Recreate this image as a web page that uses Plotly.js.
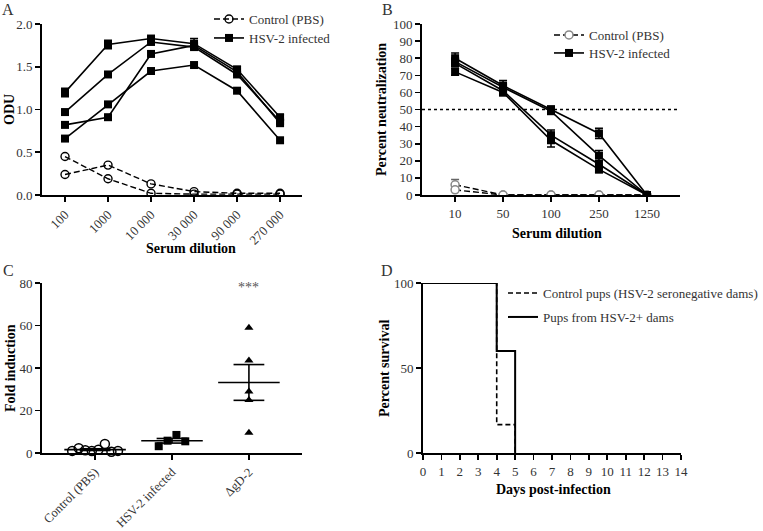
<!DOCTYPE html>
<html>
<head>
<meta charset="utf-8">
<script src="https://cdn.plot.ly/plotly-3.0.1.min.js"></script>
<style>html,body{margin:0;padding:0;background:#fff;overflow:hidden}#chart{width:763px;height:531px;}</style>
</head>
<body>
<div id="chart"></div>
<script>
// ---------- Panel A: ODU by serum dilution ----------
var dilA = ["100", "1000", "10 000", "30 000", "90 000", "270 000"];
var hsvA1 = [1.20, 1.76, 1.83, 1.77, 1.47, 0.91];
var hsvA1err = [0.05, 0.05, 0.02, 0.06, 0.03, 0.03];
var hsvA2 = [0.97, 1.41, 1.79, 1.73, 1.41, 0.86];
var hsvA3 = [0.82, 0.91, 1.65, 1.75, 1.44, 0.84];
var hsvA4 = [0.66, 1.06, 1.45, 1.52, 1.22, 0.64];
var ctlA1 = [0.45, 0.19, 0.02, 0.01, 0.01, 0.01];
var ctlA2 = [0.24, 0.35, 0.13, 0.04, 0.02, 0.02];

// ---------- Panel B: percent neutralization ----------
var dilB = ["10", "50", "100", "250", "1250"];
var hsvB1 = [80, 64, 50, 36, 0];
var hsvB1err = [3, 3, 2, 3, 0];
var hsvB2 = [78, 63, 49, 23, 0];
var hsvB2err = [2, 2, 1, 3, 0];
var hsvB3 = [77, 61, 35, 18, 0];
var hsvB3err = [2, 2, 3, 2, 0];
var hsvB4 = [72, 60, 32, 15, 0];
var hsvB4err = [2, 2, 4, 2, 0];
var ctlB1 = [6, 0, 0, 0, 0];
var ctlB1err = [3, 0, 0, 0, 0];
var ctlB2 = [3, 0, 0, 0, 0];

// ---------- Panel C: fold induction ----------
var groupsC = ["Control (PBS)", "HSV-2 infected", "ΔgD-2"];
var ctlC = [1.0, 2.2, 1.3, 0.9, 1.5, 4.2, 0.6, 1.0];
var hsvC = [3.2, 5.8, 8.5, 5.5];
var gdC = [59, 43.5, 29, 25, 9.5];

// ---------- Panel D: survival ----------
var daysCtlD = [0, 4, 5];
var survCtlD = [100, 16.7, 0];
var daysPosD = [0, 4, 5];
var survPosD = [100, 60, 0];

var FONT = "Liberation Serif, Times New Roman, serif";
var W = 763, H = 531;
function fx(px) { return px / W; }
function fy(px) { return 1 - px / H; }

var traces = [];
var errStyle = {type: "data", visible: true, color: "#000", thickness: 1.5, width: 4};

// Panel A traces
[ctlA1, ctlA2].forEach(function (s, i) {
  traces.push({x: dilA, y: s, xaxis: "x", yaxis: "y", type: "scatter", mode: "lines+markers",
    line: {color: "#000", width: 1.4, dash: "6px,3px"},
    marker: {symbol: "circle-open", size: 8, color: "#000", line: {width: 1.4, color: "#000"}},
    name: "Control (PBS)", showlegend: i === 0, legend: "legend"});
});
[hsvA1, hsvA2, hsvA3, hsvA4].forEach(function (s, i) {
  var t = {x: dilA, y: s, xaxis: "x", yaxis: "y", type: "scatter", mode: "lines+markers",
    line: {color: "#000", width: 1.6}, marker: {symbol: "square", size: 8, color: "#000"},
    name: "HSV-2 infected", showlegend: i === 0, legend: "legend2"};
  if (i === 0) t.error_y = Object.assign({array: hsvA1err}, errStyle);
  traces.push(t);
});

// Panel B traces
[[ctlB1, ctlB1err], [ctlB2, null]].forEach(function (p, i) {
  var t = {x: dilB, y: p[0], xaxis: "x2", yaxis: "y2", type: "scatter", mode: "lines+markers",
    line: {color: "#000", width: 1.4, dash: "6px,3px"},
    marker: {symbol: "circle", size: 8, color: "#fff", line: {width: 1.5, color: "#888"}},
    name: "Control (PBS)", showlegend: i === 0, legend: "legend3"};
  if (p[1]) t.error_y = Object.assign({array: p[1]}, errStyle, {color: "#666"});
  traces.push(t);
});
[[hsvB1, hsvB1err], [hsvB2, hsvB2err], [hsvB3, hsvB3err], [hsvB4, hsvB4err]].forEach(function (p, i) {
  traces.push({x: dilB, y: p[0], xaxis: "x2", yaxis: "y2", type: "scatter", mode: "lines+markers",
    line: {color: "#000", width: 1.6}, marker: {symbol: "square", size: 8, color: "#000"},
    error_y: Object.assign({array: p[1]}, errStyle),
    name: "HSV-2 infected", showlegend: i === 0, legend: "legend4"});
});

// Panel C traces: spread points horizontally around their group index
function spread(vals, gi, step) {
  return vals.map(function (v, i) { return gi + (i - (vals.length - 1) / 2) * step; });
}
function mean(a) { return a.reduce(function (s, v) { return s + v; }, 0) / a.length; }
function sem(a) {
  var m = mean(a);
  var v = a.reduce(function (s, x) { return s + (x - m) * (x - m); }, 0) / (a.length - 1);
  return Math.sqrt(v / a.length);
}
var cGroups = [
  {vals: ctlC, step: 0.085, marker: {symbol: "circle-open", size: 9, color: "#000", line: {width: 1.5, color: "#000"}}},
  {vals: hsvC, step: 0.115, marker: {symbol: "square", size: 8, color: "#000"}},
  {vals: gdC, step: 0, marker: {symbol: "triangle-up", size: 8, color: "#000"}}
];
cGroups.forEach(function (g, gi) {
  var m = mean(g.vals), s = sem(g.vals);
  traces.push({x: [gi - 0.4, gi + 0.4], y: [m, m], xaxis: "x3", yaxis: "y3", type: "scatter",
    mode: "lines", line: {color: "#000", width: 1.6}, showlegend: false, hoverinfo: "skip"});
  traces.push({x: [gi - 0.2, gi + 0.2, null, gi, gi, null, gi - 0.2, gi + 0.2],
    y: [m + s, m + s, null, m + s, m - s, null, m - s, m - s], xaxis: "x3", yaxis: "y3",
    type: "scatter", mode: "lines", line: {color: "#000", width: 1.6}, showlegend: false, hoverinfo: "skip"});
  traces.push({x: spread(g.vals, gi, g.step), y: g.vals, xaxis: "x3", yaxis: "y3", type: "scatter",
    mode: "markers", marker: g.marker, showlegend: false, cliponaxis: false});
});

// Panel D traces
traces.push({x: daysCtlD, y: survCtlD, xaxis: "x4", yaxis: "y4", type: "scatter", mode: "lines",
  line: {shape: "hv", color: "#000", width: 1.6, dash: "5px,3px"},
  name: "Control pups (HSV-2 seronegative dams)", legend: "legend5"});
traces.push({x: daysPosD, y: survPosD, xaxis: "x4", yaxis: "y4", type: "scatter", mode: "lines",
  line: {shape: "hv", color: "#000", width: 2}, name: "Pups from HSV-2+ dams", legend: "legend6"});

var tickFont = {family: FONT, size: 13, color: "#333"};
function axBase(extra) {
  return Object.assign({showline: true, linecolor: "#000", linewidth: 2, ticks: "outside",
    ticklen: 5, tickwidth: 1.6, tickcolor: "#000", showgrid: false, zeroline: false,
    tickfont: tickFont, fixedrange: true, automargin: false}, extra);
}
function leg(px, py, size) {
  return {x: fx(px), y: fy(py), xref: "container", yref: "container", xanchor: "left", yanchor: "middle",
    bgcolor: "rgba(0,0,0,0)", borderwidth: 0, itemwidth: 30,
    font: {family: FONT, size: size || 13, color: "#333"}};
}
function ann(text, px, py, extra) {
  return Object.assign({text: text, x: fx(px), y: fy(py), xref: "paper", yref: "paper", showarrow: false,
    xanchor: "center", yanchor: "middle", font: {size: 14}}, extra || {});
}

var layout = {
  width: W, height: H, margin: {l: 0, r: 0, t: 0, b: 0, autoexpand: false},
  paper_bgcolor: "#fff", plot_bgcolor: "rgba(0,0,0,0)",
  font: {family: FONT, size: 13, color: "#000"},
  xaxis: axBase({domain: [fx(42), fx(302)], anchor: "y", type: "category", range: [-0.535, 5.51], tickangle: -45}),
  yaxis: axBase({domain: [fy(195), fy(24)], anchor: "x", range: [0, 2.0], dtick: 0.5, tickformat: ".1f"}),
  xaxis2: axBase({domain: [fx(422), fx(680)], anchor: "y2", type: "category", range: [-0.69, 4.69]}),
  yaxis2: axBase({domain: [fy(195), fy(24)], anchor: "x2", range: [0, 100], dtick: 10}),
  xaxis3: axBase({domain: [fx(42), fx(302)], anchor: "y3", range: [-0.69, 2.69],
    tickvals: groupsC.map(function (g, i) { return i; }), ticktext: groupsC, tickangle: -45,
    tickfont: {family: FONT, size: 12.5, color: "#333"}}),
  yaxis3: axBase({domain: [fy(453), fy(283)], anchor: "x3", range: [0, 80], dtick: 20}),
  xaxis4: axBase({domain: [fx(423), fx(681)], anchor: "y4", range: [0, 14], dtick: 1}),
  yaxis4: axBase({domain: [fy(453), fy(283)], anchor: "x4", range: [0, 100], dtick: 50}),
  legend: leg(209, 19), legend2: leg(209, 38),
  legend3: leg(549, 35), legend4: leg(549, 53),
  legend5: leg(503, 293), legend6: leg(503, 317),
  shapes: [
    {type: "line", xref: "x2 domain", yref: "y2", x0: 0, x1: 1, y0: 50, y1: 50,
      line: {color: "#000", width: 1.5, dash: "dot"}}
  ],
  annotations: [
    ann("A", 8, 10, {font: {size: 16, color: "#333"}}),
    ann("B", 387, 10, {font: {size: 16, color: "#333"}}),
    ann("C", 8, 270, {font: {size: 16, color: "#333"}}),
    ann("D", 387, 270, {font: {size: 16, color: "#333"}}),
    ann("<b>ODU</b>", 10, 110, {textangle: -90}),
    ann("<b>Serum dilution</b>", 191, 248),
    ann("<b>Percent neutralization</b>", 382, 110, {textangle: -90}),
    ann("<b>Serum dilution</b>", 557, 233),
    ann("<b>Fold induction</b>", 10, 368, {textangle: -90}),
    ann("<b>Percent survival</b>", 384, 368, {textangle: -90}),
    ann("<b>Days post-infection</b>", 553, 489),
    {text: "***", x: 2, y: 78, xref: "x3", yref: "y3", showarrow: false, font: {size: 14, color: "#555"}}
  ]
};

Plotly.newPlot("chart", traces, layout, {staticPlot: true, displayModeBar: false});
</script>
</body>
</html>
